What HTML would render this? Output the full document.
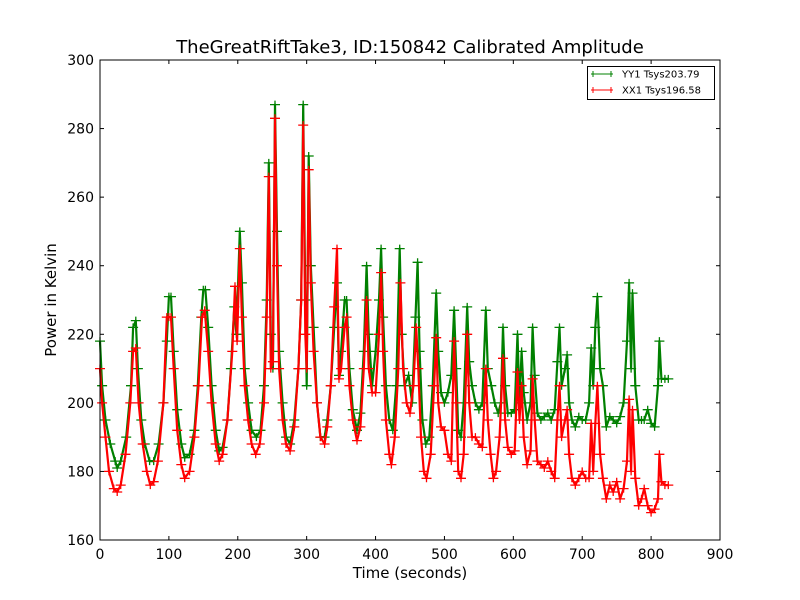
<!DOCTYPE html>
<html><head><meta charset="utf-8"><style>
body{margin:0;background:#fff;}
svg{display:block;font-family:"DejaVu Sans","Liberation Sans",sans-serif;}
</style></head><body>
<svg id="chart" width="800" height="600" viewBox="0 0 800 600">
<rect x="0" y="0" width="800" height="600" fill="#fff"/>
<text x="410" y="53" font-size="18" text-anchor="middle">TheGreatRiftTake3, ID:150842 Calibrated Amplitude</text>
<text x="410" y="578" font-size="15" text-anchor="middle">Time (seconds)</text>
<text x="0" y="0" font-size="15" text-anchor="middle" transform="translate(56,300) rotate(-90)">Power in Kelvin</text>
<g id="grid"></g>
<g id="series"></g>
<rect x="100" y="60" width="620" height="480" fill="none" stroke="#000" stroke-width="1"/>
<g>
<rect x="587.5" y="66.5" width="127" height="33" fill="#fff" stroke="#000" stroke-width="1"/>
<g>
<line x1="591" y1="74" x2="613" y2="74" stroke="green" stroke-width="1"/>
<line x1="593" y1="71" x2="593" y2="77" stroke="green"/><line x1="611" y1="71" x2="611" y2="77" stroke="green"/>
<text x="622" y="77.5" font-size="10">YY1 Tsys203.79</text></g>
<g>
<line x1="591" y1="90" x2="613" y2="90" stroke="red" stroke-width="1"/>
<line x1="593" y1="87" x2="593" y2="93" stroke="red"/><line x1="611" y1="87" x2="611" y2="93" stroke="red"/>
<text x="622" y="93.5" font-size="10">XX1 Tsys196.58</text></g>
</g>
</svg>
<script>
const xTicks=[0,100,200,300,400,500,600,700,800,900];
const yTicks=[160,180,200,220,240,260,280,300];
const yyTimes=[0,3,8,15,22,25,30,38,45,48,52,55,60,65,72,78,85,92,97,100,103,107,112,118,123,130,137,142,147,150,153,157,162,168,173,178,185,190,195,198,203,206,210,215,220,227,233,238,242,245,248,251,254,257,260,265,270,276,282,288,292,295,298,300,303,306,310,315,320,326,330,335,340,344,347,350,355,358,362,367,373,378,383,387,390,395,400,405,408,411,415,420,425,430,435,438,442,448,453,458,461,464,468,473,478,483,488,491,495,500,505,510,514,517,520,524,528,533,536,540,545,550,555,560,563,568,573,578,582,585,588,592,597,602,606,609,612,615,620,625,628,631,635,640,645,650,655,660,664,667,670,675,678,681,685,690,695,700,705,710,713,716,719,722,726,730,735,740,745,750,755,760,765,768,771,773,777,782,786,790,795,800,805,810,812,815,820,825];
const yyValues=[218,205,195,188,183,181,183,190,205,222,224,210,195,188,183,183,188,200,218,231,231,215,198,188,184,185,192,205,225,233,233,222,205,192,186,187,195,210,228,220,250,235,210,200,192,190,192,205,230,270,220,210,287,250,215,200,190,188,195,210,230,287,230,205,272,240,222,200,190,190,195,205,222,235,208,215,230,230,210,198,192,197,215,240,220,205,215,230,245,225,205,195,192,205,245,220,205,208,200,225,241,215,195,188,190,205,232,215,203,200,203,208,227,210,192,190,200,228,212,205,200,198,200,227,210,205,200,197,200,222,205,197,197,198,220,200,215,203,195,200,222,208,197,195,196,197,195,198,212,222,205,210,214,200,195,193,196,195,195,200,216,205,222,231,210,205,193,196,195,194,196,200,218,235,210,232,205,195,195,195,198,194,193,205,218,207,207,207];
const xxTimes=[0,3,8,13,20,25,30,37,44,48,52,56,62,68,73,78,84,92,97,100,103,107,112,118,123,130,137,143,148,152,157,162,168,173,178,185,192,196,199,203,206,210,215,220,226,232,238,242,245,248,251,254,257,260,265,270,276,282,288,292,295,298,300,303,306,310,315,320,326,330,335,340,344,347,350,355,358,362,367,373,378,383,387,390,395,400,405,408,411,415,420,423,428,433,436,440,445,450,455,459,462,466,470,474,480,485,488,491,495,500,505,510,514,517,520,524,528,533,536,540,545,550,555,560,563,567,571,575,580,585,588,592,597,602,606,609,612,615,620,625,628,631,635,640,645,650,655,660,664,667,670,675,678,681,685,690,695,700,705,710,713,716,719,722,726,730,735,740,745,750,755,760,765,768,771,773,777,782,786,790,795,800,805,810,812,815,820,825];
const xxValues=[210,200,190,180,175,174,176,185,200,215,216,200,188,180,176,177,183,200,225,225,225,210,192,182,178,180,190,205,225,227,215,200,188,183,185,195,215,234,218,245,225,205,195,188,185,188,200,225,266,210,212,283,240,210,195,188,186,193,210,230,281,220,210,268,235,215,200,190,188,193,205,228,245,207,210,222,225,205,195,189,193,210,230,210,203,203,220,238,215,195,185,182,190,210,235,210,200,197,205,222,210,190,180,178,185,205,219,200,193,192,185,183,218,200,180,178,185,220,200,190,190,188,187,210,195,185,178,180,190,213,195,187,185,186,209,195,205,190,182,186,207,195,183,182,181,183,180,178,195,205,190,195,198,185,178,176,178,180,178,178,194,180,194,205,185,178,172,176,174,177,172,175,183,201,180,198,178,170,172,175,170,168,169,172,185,177,176,176];

const X0=100,X1=720,Y0=540,Y1=60;
function xs(t){return X0+(t-0)/(900-0)*(X1-X0);}
function ys(v){return Y0-(v-160)/(300-160)*(Y0-Y1);}
const NS="http://www.w3.org/2000/svg";
const grid=document.getElementById('grid');
function mk(tag,attrs,parent){const e=document.createElementNS(NS,tag);for(const k in attrs)e.setAttribute(k,attrs[k]);parent.appendChild(e);return e;}
xTicks.forEach(t=>{
  const g=mk('g',{},grid);
  
  
  const x=xs(t);
  mk('line',{x1:x,y1:Y0,x2:x,y2:Y0-4,stroke:'#000'},g);
  mk('line',{x1:x,y1:Y1,x2:x,y2:Y1+4,stroke:'#000'},g);
  const tx=mk('text',{x:x,y:Y0+19,'font-size':14,'text-anchor':'middle'},g);tx.textContent=t;
});
yTicks.forEach(v=>{
  const g=mk('g',{},grid);
  
  
  const y=ys(v);
  mk('line',{x1:X0,y1:y,x2:X0+4,y2:y,stroke:'#000'},g);
  mk('line',{x1:X1,y1:y,x2:X1-4,y2:y,stroke:'#000'},g);
  const tx=mk('text',{x:X0-6,y:y+5,'font-size':14,'text-anchor':'end'},g);tx.textContent=v;
});
const sg=document.getElementById('series');
function drawSeries(times,vals,color,name){
  const g=mk('g',{},sg);
  
  
  let d='';
  times.forEach((t,i)=>{d+=(i?'L':'M')+xs(t).toFixed(1)+' '+ys(vals[i]).toFixed(1);});
  mk('path',{d:d,fill:'none',stroke:color,'stroke-width':2.2,'stroke-linejoin':'round'},g);
  let m='';
  times.forEach((t,i)=>{const x=xs(t),y=ys(vals[i]);m+='M'+(x-5).toFixed(1)+' '+y.toFixed(1)+'h10M'+x.toFixed(1)+' '+(y-4).toFixed(1)+'v8';});
  mk('path',{d:m,fill:'none',stroke:color,'stroke-width':1.3},g);
}
drawSeries(yyTimes,yyValues,'green','series-yy1');
drawSeries(xxTimes,xxValues,'red','series-xx1');
</script>
</body></html>
